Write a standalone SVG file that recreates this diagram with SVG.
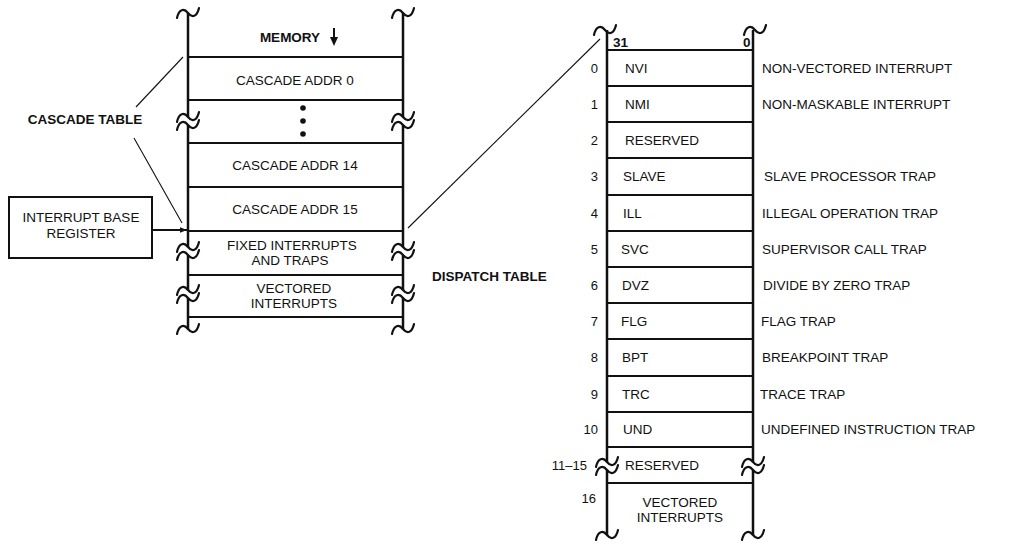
<svg xmlns="http://www.w3.org/2000/svg" width="1021" height="546" viewBox="0 0 1021 546">
<defs>
<style>
.v{stroke:#111;stroke-width:2.5;fill:none}
.h{stroke:#111;stroke-width:2;fill:none}
.w{stroke:#111;stroke-width:2.2;fill:none;stroke-linecap:round}
.thin{stroke:#111;stroke-width:1.1;fill:none}
.t{font-family:"Liberation Sans",Arial,sans-serif;font-size:13.5px;fill:#111}
.b{font-weight:bold}
.m{text-anchor:middle}
.n{font-family:"Liberation Sans",Arial,sans-serif;font-size:13px;fill:#111;text-anchor:end}
</style>
<path id="wave" d="M-11,5 C-9,-4 -4,-5 0,0 C4,5 9,4 11,-5" class="w"/>
<g id="brk">
<rect x="-3" y="-4" width="6" height="8" fill="#fff"/>
<use href="#wave" y="-4"/>
<use href="#wave" y="4"/>
</g>
<marker id="ah" viewBox="0 0 10 10" refX="10" refY="5" markerWidth="9" markerHeight="7" markerUnits="userSpaceOnUse" orient="auto">
<path d="M0,1 L10,5 L0,9 Z" fill="#111"/>
</marker>
</defs>
<rect width="1021" height="546" fill="#fff"/>

<g id="connectors">
<line class="thin" x1="136" y1="107" x2="183" y2="57"/>
<line class="thin" x1="134" y1="138" x2="182" y2="223"/>
<line class="thin" x1="408" y1="228" x2="600" y2="39"/>
<line class="h" x1="152" y1="230" x2="187" y2="230" stroke-width="1.6" marker-end="url(#ah)"/>
</g>

<g id="memory">
<line class="v" x1="188" y1="13" x2="188" y2="329"/>
<line class="v" x1="403" y1="13" x2="403" y2="329"/>
<use href="#wave" x="188" y="13"/>
<use href="#wave" x="403" y="13"/>
<use href="#wave" x="188" y="329"/>
<use href="#wave" x="403" y="329"/>
<g class="h">
<line x1="188" y1="57" x2="403" y2="57"/>
<line x1="188" y1="100" x2="403" y2="100"/>
<line x1="188" y1="143" x2="403" y2="143"/>
<line x1="188" y1="187" x2="403" y2="187"/>
<line x1="188" y1="231" x2="403" y2="231"/>
<line x1="188" y1="275" x2="403" y2="275"/>
<line x1="188" y1="317" x2="403" y2="317"/>
</g>
<use href="#brk" x="188" y="121"/>
<use href="#brk" x="403" y="121"/>
<use href="#brk" x="188" y="251"/>
<use href="#brk" x="403" y="251"/>
<use href="#brk" x="188" y="294"/>
<use href="#brk" x="403" y="294"/>
<text class="t b m" x="290" y="42" font-size="12.5">MEMORY</text>
<line class="h" x1="334" y1="28" x2="334" y2="38" stroke-width="1.6"/>
<path d="M330,37 L338,37 L334,46 Z" fill="#111"/>
<text class="t m" x="295" y="85">CASCADE ADDR 0</text>
<circle cx="303" cy="108" r="2.8" fill="#111"/>
<circle cx="303" cy="121" r="2.8" fill="#111"/>
<circle cx="303" cy="134" r="2.8" fill="#111"/>
<text class="t m" x="295" y="170">CASCADE ADDR 14</text>
<text class="t m" x="295" y="214">CASCADE ADDR 15</text>
<text class="t m" x="292" y="250">FIXED INTERRUPTS</text>
<text class="t m" x="290" y="265">AND TRAPS</text>
<text class="t m" x="294" y="293">VECTORED</text>
<text class="t m" x="294" y="308">INTERRUPTS</text>
</g>

<g id="cascade-table-label">
<text class="t b m" x="85" y="124" font-size="13">CASCADE TABLE</text>
</g>

<g id="interrupt-base-register">
<rect x="9" y="197" width="143" height="61" class="h"/>
<text class="t m" x="81" y="222">INTERRUPT BASE</text>
<text class="t m" x="81" y="238">REGISTER</text>
</g>

<g id="dispatch-table-label">
<text class="t b" x="432" y="281" font-size="12">DISPATCH TABLE</text>
</g>

<g id="dispatch">
<line class="v" x1="607" y1="30" x2="607" y2="535"/>
<line class="v" x1="753" y1="30" x2="753" y2="535"/>
<use href="#wave" x="605" y="30"/>
<use href="#wave" x="755" y="30"/>
<use href="#wave" x="607" y="535"/>
<use href="#wave" x="753" y="535"/>
<g class="h">
<line x1="607" y1="50" x2="753" y2="50"/>
<line x1="607" y1="86" x2="753" y2="86"/>
<line x1="607" y1="122" x2="753" y2="122"/>
<line x1="607" y1="158" x2="753" y2="158"/>
<line x1="607" y1="195" x2="753" y2="195"/>
<line x1="607" y1="231" x2="753" y2="231"/>
<line x1="607" y1="267" x2="753" y2="267"/>
<line x1="607" y1="303" x2="753" y2="303"/>
<line x1="607" y1="339" x2="753" y2="339"/>
<line x1="607" y1="376" x2="753" y2="376"/>
<line x1="607" y1="412" x2="753" y2="412"/>
<line x1="607" y1="447" x2="753" y2="447"/>
<line x1="607" y1="483" x2="753" y2="483"/>
</g>
<use href="#brk" x="607" y="466"/>
<use href="#brk" x="753" y="466"/>
<text class="t b" x="613" y="47" font-size="12">31</text>
<text class="t b" x="743" y="47" font-size="12">0</text>

<text class="n" x="598" y="73">0</text>
<text class="n" x="598" y="109">1</text>
<text class="n" x="598" y="145">2</text>
<text class="n" x="598" y="181">3</text>
<text class="n" x="598" y="218">4</text>
<text class="n" x="598" y="254">5</text>
<text class="n" x="598" y="290">6</text>
<text class="n" x="598" y="326">7</text>
<text class="n" x="598" y="362">8</text>
<text class="n" x="598" y="399">9</text>
<text class="n" x="598" y="434">10</text>
<text class="n" x="587" y="470">11–15</text>
<text class="n" x="596" y="503">16</text>

<text class="t" x="625" y="73">NVI</text>
<text class="t" x="625" y="109">NMI</text>
<text class="t" x="625" y="145">RESERVED</text>
<text class="t" x="623" y="181">SLAVE</text>
<text class="t" x="623" y="218">ILL</text>
<text class="t" x="621" y="254">SVC</text>
<text class="t" x="622" y="290">DVZ</text>
<text class="t" x="621" y="326">FLG</text>
<text class="t" x="622" y="362">BPT</text>
<text class="t" x="622" y="399">TRC</text>
<text class="t" x="623" y="434">UND</text>
<text class="t" x="625" y="470">RESERVED</text>
<text class="t m" x="680" y="507">VECTORED</text>
<text class="t m" x="680" y="522">INTERRUPTS</text>

<text class="t" x="762" y="73">NON-VECTORED INTERRUPT</text>
<text class="t" x="762" y="109">NON-MASKABLE INTERRUPT</text>
<text class="t" x="764" y="181">SLAVE PROCESSOR TRAP</text>
<text class="t" x="762" y="218">ILLEGAL OPERATION TRAP</text>
<text class="t" x="762" y="254">SUPERVISOR CALL TRAP</text>
<text class="t" x="763" y="290">DIVIDE BY ZERO TRAP</text>
<text class="t" x="761" y="326">FLAG TRAP</text>
<text class="t" x="762" y="362">BREAKPOINT TRAP</text>
<text class="t" x="760" y="399">TRACE TRAP</text>
<text class="t" x="761" y="434">UNDEFINED INSTRUCTION TRAP</text>
</g>
</svg>
